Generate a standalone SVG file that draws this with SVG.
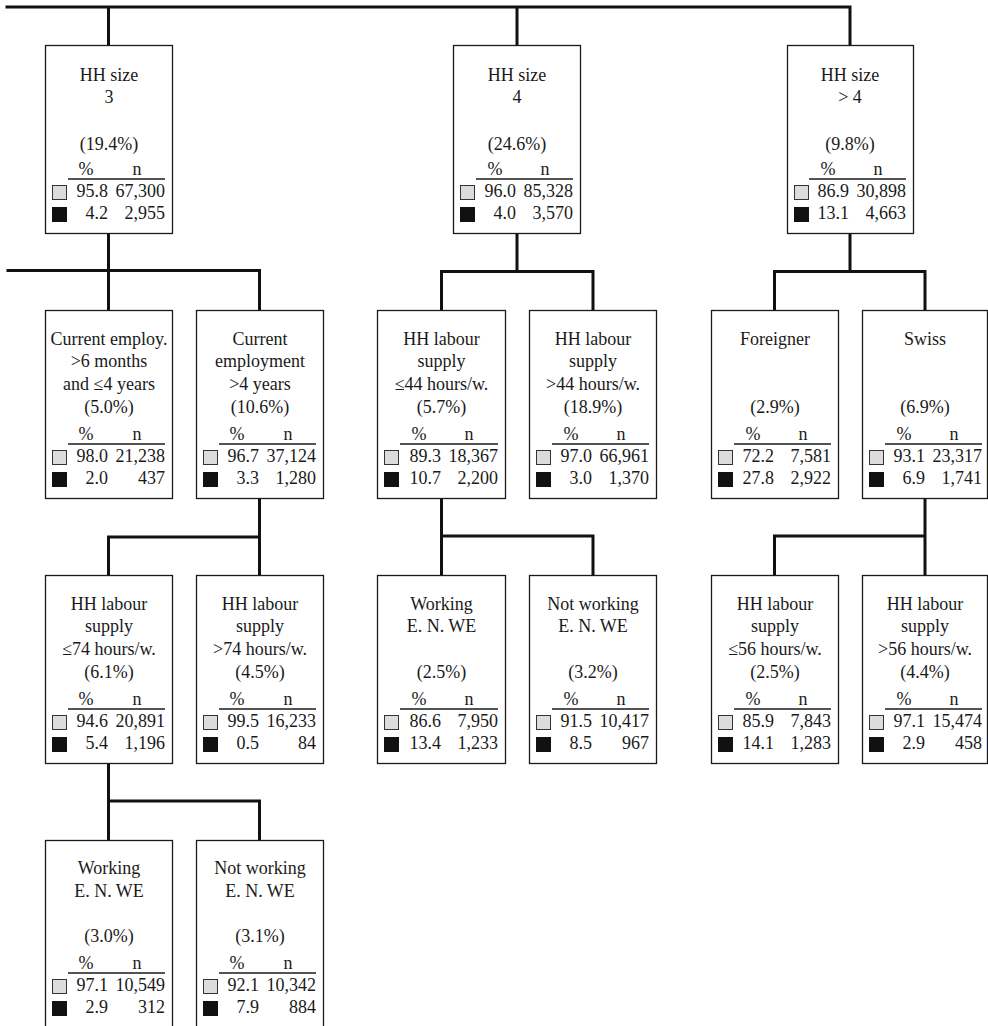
<svg xmlns="http://www.w3.org/2000/svg" width="988" height="1026" viewBox="0 0 988 1026">
<style>
  .box { fill: #ffffff; stroke: #1a1a1a; stroke-width: 1.3; }
  .t { font-family: "Liberation Serif", "Times New Roman", serif; font-size: 18px; fill: #1a1a1a; text-anchor: middle; }
  .r { font-family: "Liberation Serif", "Times New Roman", serif; font-size: 18px; fill: #1a1a1a; text-anchor: end; }
  .hl { stroke: #1a1a1a; stroke-width: 1.3; }
  .lt { fill: #dcdcdc; stroke: #333333; stroke-width: 1; }
  .dk { fill: #111111; stroke: #111111; stroke-width: 1; }
  .conn { fill: none; stroke: #111111; stroke-width: 3; stroke-linecap: square; }
</style>
<rect width="988" height="1026" fill="#ffffff"/>
<g id="connectors">
  <path class="conn" d="M7 7 H849 M108.5 7 V45 M517 7 V45 M850 7 V45"/>
  <path class="conn" d="M8 270.5 H259.5 M108.5 233 V310 M259.5 270.5 V310"/>
  <path class="conn" d="M441.5 271.5 H593 M517 233 V271.5 M441.5 271.5 V310 M593 271.5 V310"/>
  <path class="conn" d="M774.5 271.5 H925 M850 233 V271.5 M774.5 271.5 V310 M925 271.5 V310"/>
  <path class="conn" d="M108.5 537 H259.5 M259.5 498 V575 M108.5 537 V575"/>
  <path class="conn" d="M441.5 536 H593 M441.5 498 V575 M593 536 V575"/>
  <path class="conn" d="M774.5 536 H925 M925 498 V575 M774.5 536 V575"/>
  <path class="conn" d="M108.5 801 H259.5 M108.5 763 V840 M259.5 801 V840"/>
</g>

<g id="n_hh3">
  <rect class="box" x="45.5" y="45.5" width="127" height="188"/>
  <text class="t" x="109" y="81">HH size</text>
  <text class="t" x="109" y="103">3</text>
  <text class="t" x="109" y="150">(19.4%)</text>
  <text class="t" x="86" y="175">%</text><text class="t" x="137" y="175">n</text>
  <line class="hl" x1="68" y1="179" x2="165" y2="179"/>
  <rect class="lt" x="52.5" y="185.5" width="14" height="14"/><text class="r" x="108" y="197">95.8</text><text class="r" x="165" y="197">67,300</text>
  <rect class="dk" x="52.5" y="207.5" width="14" height="14"/><text class="r" x="108" y="219">4.2</text><text class="r" x="165" y="219">2,955</text>
</g>

<g id="n_hh4">
  <rect class="box" x="453.5" y="45.5" width="127" height="188"/>
  <text class="t" x="517" y="81">HH size</text>
  <text class="t" x="517" y="103">4</text>
  <text class="t" x="517" y="150">(24.6%)</text>
  <text class="t" x="495" y="175">%</text><text class="t" x="545" y="175">n</text>
  <line class="hl" x1="476" y1="179" x2="573" y2="179"/>
  <rect class="lt" x="460.5" y="185.5" width="14" height="14"/><text class="r" x="516" y="197">96.0</text><text class="r" x="573" y="197">85,328</text>
  <rect class="dk" x="460.5" y="207.5" width="14" height="14"/><text class="r" x="516" y="219">4.0</text><text class="r" x="573" y="219">3,570</text>
</g>

<g id="n_hh5">
  <rect class="box" x="787.5" y="45.5" width="126" height="188"/>
  <text class="t" x="850" y="81">HH size</text>
  <text class="t" x="850" y="103">&gt; 4</text>
  <text class="t" x="850" y="150">(9.8%)</text>
  <text class="t" x="828" y="175">%</text><text class="t" x="878" y="175">n</text>
  <line class="hl" x1="809" y1="179" x2="906" y2="179"/>
  <rect class="lt" x="794.5" y="185.5" width="14" height="14"/><text class="r" x="849" y="197">86.9</text><text class="r" x="906" y="197">30,898</text>
  <rect class="dk" x="794.5" y="207.5" width="14" height="14"/><text class="r" x="849" y="219">13.1</text><text class="r" x="906" y="219">4,663</text>
</g>

<g id="n_emp_mid">
  <rect class="box" x="45.5" y="310.5" width="127" height="188"/>
  <text class="t" x="109" y="345">Current employ.</text>
  <text class="t" x="109" y="367">&gt;6 months</text>
  <text class="t" x="109" y="390">and ≤4 years</text>
  <text class="t" x="109" y="413">(5.0%)</text>
  <text class="t" x="86" y="440">%</text><text class="t" x="137" y="440">n</text>
  <line class="hl" x1="68" y1="444" x2="165" y2="444"/>
  <rect class="lt" x="52.5" y="450.5" width="14" height="14"/><text class="r" x="108" y="462">98.0</text><text class="r" x="165" y="462">21,238</text>
  <rect class="dk" x="52.5" y="472.5" width="14" height="14"/><text class="r" x="108" y="484">2.0</text><text class="r" x="165" y="484">437</text>
</g>

<g id="n_emp_long">
  <rect class="box" x="196.5" y="310.5" width="127" height="188"/>
  <text class="t" x="260" y="345">Current</text>
  <text class="t" x="260" y="367">employment</text>
  <text class="t" x="260" y="390">&gt;4 years</text>
  <text class="t" x="260" y="413">(10.6%)</text>
  <text class="t" x="237" y="440">%</text><text class="t" x="288" y="440">n</text>
  <line class="hl" x1="219" y1="444" x2="316" y2="444"/>
  <rect class="lt" x="203.5" y="450.5" width="14" height="14"/><text class="r" x="259" y="462">96.7</text><text class="r" x="316" y="462">37,124</text>
  <rect class="dk" x="203.5" y="472.5" width="14" height="14"/><text class="r" x="259" y="484">3.3</text><text class="r" x="316" y="484">1,280</text>
</g>

<g id="n_lab44_le">
  <rect class="box" x="377.5" y="310.5" width="128" height="188"/>
  <text class="t" x="441.5" y="345">HH labour</text>
  <text class="t" x="441.5" y="367">supply</text>
  <text class="t" x="441.5" y="390">≤44 hours/w.</text>
  <text class="t" x="441.5" y="413">(5.7%)</text>
  <text class="t" x="419" y="440">%</text><text class="t" x="469" y="440">n</text>
  <line class="hl" x1="400" y1="444" x2="498" y2="444"/>
  <rect class="lt" x="384.5" y="450.5" width="14" height="14"/><text class="r" x="441" y="462">89.3</text><text class="r" x="498" y="462">18,367</text>
  <rect class="dk" x="384.5" y="472.5" width="14" height="14"/><text class="r" x="441" y="484">10.7</text><text class="r" x="498" y="484">2,200</text>
</g>

<g id="n_lab44_gt">
  <rect class="box" x="529.5" y="310.5" width="127" height="188"/>
  <text class="t" x="593" y="345">HH labour</text>
  <text class="t" x="593" y="367">supply</text>
  <text class="t" x="593" y="390">&gt;44 hours/w.</text>
  <text class="t" x="593" y="413">(18.9%)</text>
  <text class="t" x="571" y="440">%</text><text class="t" x="621" y="440">n</text>
  <line class="hl" x1="552" y1="444" x2="649" y2="444"/>
  <rect class="lt" x="536.5" y="450.5" width="14" height="14"/><text class="r" x="592" y="462">97.0</text><text class="r" x="649" y="462">66,961</text>
  <rect class="dk" x="536.5" y="472.5" width="14" height="14"/><text class="r" x="592" y="484">3.0</text><text class="r" x="649" y="484">1,370</text>
</g>

<g id="n_foreigner">
  <rect class="box" x="711.5" y="310.5" width="127" height="188"/>
  <text class="t" x="775" y="345">Foreigner</text>
  <text class="t" x="775" y="413">(2.9%)</text>
  <text class="t" x="753" y="440">%</text><text class="t" x="803" y="440">n</text>
  <line class="hl" x1="734" y1="444" x2="831" y2="444"/>
  <rect class="lt" x="718.5" y="450.5" width="14" height="14"/><text class="r" x="774" y="462">72.2</text><text class="r" x="831" y="462">7,581</text>
  <rect class="dk" x="718.5" y="472.5" width="14" height="14"/><text class="r" x="774" y="484">27.8</text><text class="r" x="831" y="484">2,922</text>
</g>

<g id="n_swiss">
  <rect class="box" x="862.5" y="310.5" width="125" height="188"/>
  <text class="t" x="925" y="345">Swiss</text>
  <text class="t" x="925" y="413">(6.9%)</text>
  <text class="t" x="904" y="440">%</text><text class="t" x="954" y="440">n</text>
  <line class="hl" x1="885" y1="444" x2="982" y2="444"/>
  <rect class="lt" x="869.5" y="450.5" width="14" height="14"/><text class="r" x="925" y="462">93.1</text><text class="r" x="982" y="462">23,317</text>
  <rect class="dk" x="869.5" y="472.5" width="14" height="14"/><text class="r" x="925" y="484">6.9</text><text class="r" x="982" y="484">1,741</text>
</g>

<g id="n_lab74_le">
  <rect class="box" x="45.5" y="575.5" width="127" height="188"/>
  <text class="t" x="109" y="610">HH labour</text>
  <text class="t" x="109" y="632">supply</text>
  <text class="t" x="109" y="655">≤74 hours/w.</text>
  <text class="t" x="109" y="678">(6.1%)</text>
  <text class="t" x="86" y="705">%</text><text class="t" x="137" y="705">n</text>
  <line class="hl" x1="68" y1="709" x2="165" y2="709"/>
  <rect class="lt" x="52.5" y="715.5" width="14" height="14"/><text class="r" x="108" y="727">94.6</text><text class="r" x="165" y="727">20,891</text>
  <rect class="dk" x="52.5" y="737.5" width="14" height="14"/><text class="r" x="108" y="749">5.4</text><text class="r" x="165" y="749">1,196</text>
</g>

<g id="n_lab74_gt">
  <rect class="box" x="196.5" y="575.5" width="127" height="188"/>
  <text class="t" x="260" y="610">HH labour</text>
  <text class="t" x="260" y="632">supply</text>
  <text class="t" x="260" y="655">&gt;74 hours/w.</text>
  <text class="t" x="260" y="678">(4.5%)</text>
  <text class="t" x="237" y="705">%</text><text class="t" x="288" y="705">n</text>
  <line class="hl" x1="219" y1="709" x2="316" y2="709"/>
  <rect class="lt" x="203.5" y="715.5" width="14" height="14"/><text class="r" x="259" y="727">99.5</text><text class="r" x="316" y="727">16,233</text>
  <rect class="dk" x="203.5" y="737.5" width="14" height="14"/><text class="r" x="259" y="749">0.5</text><text class="r" x="316" y="749">84</text>
</g>

<g id="n_work_mid">
  <rect class="box" x="377.5" y="575.5" width="128" height="188"/>
  <text class="t" x="441.5" y="610">Working</text>
  <text class="t" x="441.5" y="632">E. N. WE</text>
  <text class="t" x="441.5" y="678">(2.5%)</text>
  <text class="t" x="419" y="705">%</text><text class="t" x="469" y="705">n</text>
  <line class="hl" x1="400" y1="709" x2="498" y2="709"/>
  <rect class="lt" x="384.5" y="715.5" width="14" height="14"/><text class="r" x="441" y="727">86.6</text><text class="r" x="498" y="727">7,950</text>
  <rect class="dk" x="384.5" y="737.5" width="14" height="14"/><text class="r" x="441" y="749">13.4</text><text class="r" x="498" y="749">1,233</text>
</g>

<g id="n_notwork_mid">
  <rect class="box" x="529.5" y="575.5" width="127" height="188"/>
  <text class="t" x="593" y="610">Not working</text>
  <text class="t" x="593" y="632">E. N. WE</text>
  <text class="t" x="593" y="678">(3.2%)</text>
  <text class="t" x="571" y="705">%</text><text class="t" x="621" y="705">n</text>
  <line class="hl" x1="552" y1="709" x2="649" y2="709"/>
  <rect class="lt" x="536.5" y="715.5" width="14" height="14"/><text class="r" x="592" y="727">91.5</text><text class="r" x="649" y="727">10,417</text>
  <rect class="dk" x="536.5" y="737.5" width="14" height="14"/><text class="r" x="592" y="749">8.5</text><text class="r" x="649" y="749">967</text>
</g>

<g id="n_lab56_le">
  <rect class="box" x="711.5" y="575.5" width="127" height="188"/>
  <text class="t" x="775" y="610">HH labour</text>
  <text class="t" x="775" y="632">supply</text>
  <text class="t" x="775" y="655">≤56 hours/w.</text>
  <text class="t" x="775" y="678">(2.5%)</text>
  <text class="t" x="753" y="705">%</text><text class="t" x="803" y="705">n</text>
  <line class="hl" x1="734" y1="709" x2="831" y2="709"/>
  <rect class="lt" x="718.5" y="715.5" width="14" height="14"/><text class="r" x="774" y="727">85.9</text><text class="r" x="831" y="727">7,843</text>
  <rect class="dk" x="718.5" y="737.5" width="14" height="14"/><text class="r" x="774" y="749">14.1</text><text class="r" x="831" y="749">1,283</text>
</g>

<g id="n_lab56_gt">
  <rect class="box" x="862.5" y="575.5" width="125" height="188"/>
  <text class="t" x="925" y="610">HH labour</text>
  <text class="t" x="925" y="632">supply</text>
  <text class="t" x="925" y="655">&gt;56 hours/w.</text>
  <text class="t" x="925" y="678">(4.4%)</text>
  <text class="t" x="904" y="705">%</text><text class="t" x="954" y="705">n</text>
  <line class="hl" x1="885" y1="709" x2="982" y2="709"/>
  <rect class="lt" x="869.5" y="715.5" width="14" height="14"/><text class="r" x="925" y="727">97.1</text><text class="r" x="982" y="727">15,474</text>
  <rect class="dk" x="869.5" y="737.5" width="14" height="14"/><text class="r" x="925" y="749">2.9</text><text class="r" x="982" y="749">458</text>
</g>

<g id="n_work_left">
  <rect class="box" x="45.5" y="840.5" width="127" height="200"/>
  <text class="t" x="109" y="874">Working</text>
  <text class="t" x="109" y="897">E. N. WE</text>
  <text class="t" x="109" y="942">(3.0%)</text>
  <text class="t" x="86" y="969">%</text><text class="t" x="137" y="969">n</text>
  <line class="hl" x1="68" y1="973" x2="165" y2="973"/>
  <rect class="lt" x="52.5" y="979.5" width="14" height="14"/><text class="r" x="108" y="991">97.1</text><text class="r" x="165" y="991">10,549</text>
  <rect class="dk" x="52.5" y="1001.5" width="14" height="14"/><text class="r" x="108" y="1013">2.9</text><text class="r" x="165" y="1013">312</text>
</g>

<g id="n_notwork_left">
  <rect class="box" x="196.5" y="840.5" width="127" height="200"/>
  <text class="t" x="260" y="874">Not working</text>
  <text class="t" x="260" y="897">E. N. WE</text>
  <text class="t" x="260" y="942">(3.1%)</text>
  <text class="t" x="237" y="969">%</text><text class="t" x="288" y="969">n</text>
  <line class="hl" x1="219" y1="973" x2="316" y2="973"/>
  <rect class="lt" x="203.5" y="979.5" width="14" height="14"/><text class="r" x="259" y="991">92.1</text><text class="r" x="316" y="991">10,342</text>
  <rect class="dk" x="203.5" y="1001.5" width="14" height="14"/><text class="r" x="259" y="1013">7.9</text><text class="r" x="316" y="1013">884</text>
</g>
</svg>
